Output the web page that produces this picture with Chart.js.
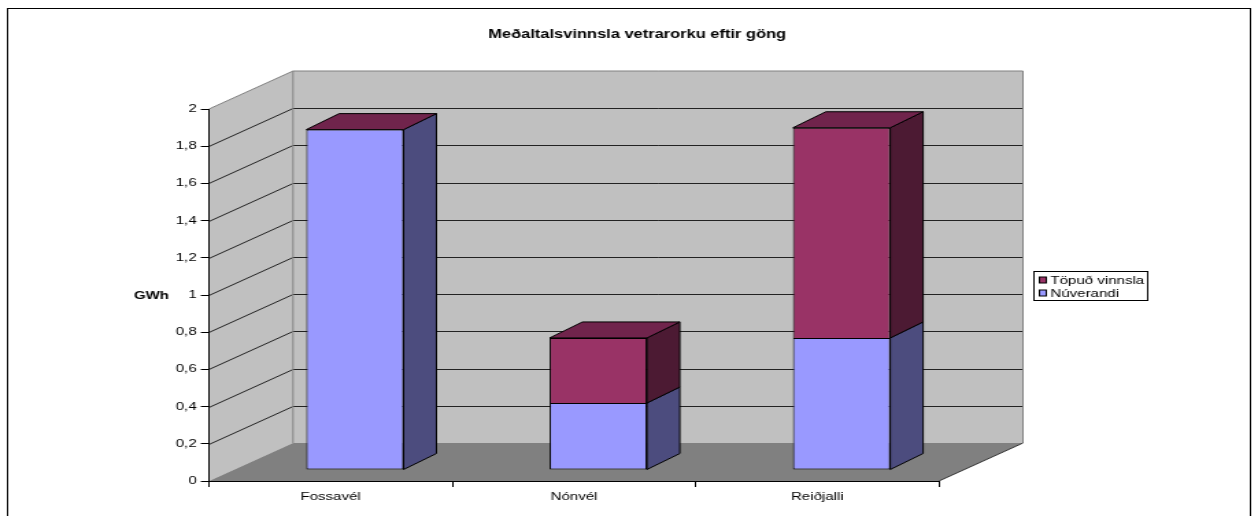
<!DOCTYPE html>
<html>
<head>
<meta charset="utf-8">
<title>Meðaltalsvinnsla vetrarorku eftir göng</title>
<script src="https://cdn.jsdelivr.net/npm/chart.js@4.4.1/dist/chart.umd.min.js"></script>
<style>
    html, body { margin: 0; padding: 0; background: #fff; }
    #myChart { display: block; }
</style>
</head>
<body>
<!-- drawn 918 wide and stretched to 1258, like the original export -->
<canvas id="myChart" width="918" height="516" style="width:1258px;height:516px"></canvas>
<script>
'use strict';

var title = 'Meðaltalsvinnsla vetrarorku eftir göng';
var categories = ['Fossavél', 'Nónvél', 'Reiðjalli'];
var nuverandi = [1.83, 0.36, 0.71];
var topud = [0, 0.35, 1.13];
var yTickValues = [0, 0.2, 0.4, 0.6, 0.8, 1, 1.2, 1.4, 1.6, 1.8, 2];
var yTickLabels = ['0', '0,2', '0,4', '0,6', '0,8', '1', '1,2', '1,4', '1,6', '1,8', '2'];
var yTitle = 'GWh';

var FONT = '"Liberation Sans", Arial, sans-serif';
Chart.defaults.font.family = FONT;
Chart.defaults.font.size = 11;
Chart.defaults.color = '#000';

// 3d look (canvas px)
var wallDepth = { x: 61.3, y: -38 };
var barShift = { x: 17.7, y: -11 };
var barDepth = { x: 24, y: -16 };
var sideColors = ['#4c4c7e', '#4c1a33'];
var topColors = ['#7a7acc', '#70244c'];

var box3d = {
    id: 'box3d',
    beforeDraw: function (chart) {
        var ctx = chart.ctx;
        var a = chart.chartArea;
        var ys = chart.scales.y;
        var L = a.left, R = a.right;
        var y0 = ys.getPixelForValue(0), y2 = ys.getPixelForValue(2);
        var dx = wallDepth.x, dy = wallDepth.y;
        ctx.save();
        ctx.fillStyle = '#c0c0c0';
        ctx.beginPath();
        ctx.moveTo(L, y0);
        ctx.lineTo(L + dx, y0 + dy);
        ctx.lineTo(L + dx, y2 + dy);
        ctx.lineTo(L, y2);
        ctx.closePath();
        ctx.fill();
        ctx.fillRect(L + dx, y2 + dy, R - L, y0 - y2);
        // floor
        ctx.fillStyle = '#808080';
        ctx.beginPath();
        ctx.moveTo(L, y0);
        ctx.lineTo(R, y0);
        ctx.lineTo(R + dx, y0 + dy);
        ctx.lineTo(L + dx, y0 + dy);
        ctx.closePath();
        ctx.fill();
        // gridlines on the walls
        ctx.lineWidth = 1;
        ctx.strokeStyle = '#222';
        yTickValues.forEach(function (v) {
            if (v <= 0 || v >= 2) return;
            var py = Math.round(ys.getPixelForValue(v)) + 0.5;
            ctx.beginPath();
            ctx.moveTo(L, py);
            ctx.lineTo(L + dx, py + dy);
            ctx.lineTo(R + dx, py + dy);
            ctx.stroke();
        });
        // wall edges
        ctx.strokeStyle = '#808080';
        ctx.beginPath();
        ctx.moveTo(L, y2);
        ctx.lineTo(L + dx, y2 + dy);
        ctx.lineTo(R + dx, y2 + dy);
        ctx.lineTo(R + dx, y0 + dy);
        ctx.moveTo(L + dx, y2 + dy);
        ctx.lineTo(L + dx, y0 + dy);
        ctx.stroke();
        ctx.strokeStyle = '#333';
        ctx.beginPath();
        ctx.moveTo(R, y0);
        ctx.lineTo(R + dx, y0 + dy);
        ctx.stroke();
        ctx.restore();
    },
    beforeDatasetsDraw: function (chart) {
        chart.ctx.save();
        chart.ctx.translate(barShift.x, barShift.y);
    },
    afterDatasetsDraw: function (chart) {
        var ctx = chart.ctx;
        var last = chart.data.datasets.length - 1;
        ctx.lineWidth = 1;
        ctx.strokeStyle = '#000';
        chart.data.datasets.forEach(function (ds, di) {
            var meta = chart.getDatasetMeta(di);
            meta.data.forEach(function (el) {
                var p = el.getProps(['x', 'y', 'base', 'width'], true);
                var left = p.x - p.width / 2, right = p.x + p.width / 2;
                var top = Math.min(p.y, p.base), bottom = Math.max(p.y, p.base);
                if (bottom - top > 0.5) {
                    ctx.fillStyle = sideColors[di];
                    ctx.beginPath();
                    ctx.moveTo(right, top);
                    ctx.lineTo(right + barDepth.x, top + barDepth.y);
                    ctx.lineTo(right + barDepth.x, bottom + barDepth.y);
                    ctx.lineTo(right, bottom);
                    ctx.closePath();
                    ctx.fill();
                    ctx.stroke();
                }
                if (di === last) {
                    ctx.fillStyle = topColors[di];
                    ctx.beginPath();
                    ctx.moveTo(left, top);
                    ctx.lineTo(left + barDepth.x, top + barDepth.y);
                    ctx.lineTo(right + barDepth.x, top + barDepth.y);
                    ctx.lineTo(right, top);
                    ctx.closePath();
                    ctx.fill();
                    ctx.stroke();
                }
            });
        });
        ctx.restore();
    },
    afterDraw: function (chart) {
        var ctx = chart.ctx;
        var ys = chart.scales.y;
        ctx.save();
        // axis title, horizontal
        ctx.fillStyle = '#000';
        ctx.font = 'bold 11px ' + FONT;
        ctx.textAlign = 'center';
        ctx.textBaseline = 'middle';
        ctx.fillText(yTitle, 110.5, ys.getPixelForValue(1) + 1);
        // legend, top series first
        var lx = 754.5, ly = 271.5, lw = 83, lh = 29;
        ctx.fillStyle = '#fff';
        ctx.fillRect(lx, ly, lw, lh);
        ctx.strokeStyle = '#000';
        ctx.lineWidth = 1;
        ctx.strokeRect(lx, ly, lw, lh);
        ctx.font = '11px ' + FONT;
        ctx.textAlign = 'left';
        var items = chart.data.datasets.slice().reverse();
        items.forEach(function (ds, i) {
            var cy = ly + 8.5 + i * 13;
            ctx.fillStyle = ds.backgroundColor;
            ctx.fillRect(lx + 4, cy - 3, 5, 6);
            ctx.strokeRect(lx + 4, cy - 3, 5, 6);
            ctx.fillStyle = '#000';
            ctx.fillText(ds.label, lx + 12, cy + 0.5);
        });
        // outer frame
        ctx.strokeStyle = '#000';
        ctx.strokeRect(5.5, 8.5, 907, 520);
        ctx.restore();
    }
};

var ctx = document.getElementById('myChart').getContext('2d');
var myChart = new Chart(ctx, {
    type: 'bar',
    data: {
        labels: categories,
        datasets: [{
            label: 'Núverandi',
            data: nuverandi,
            backgroundColor: '#9999ff',
            borderColor: '#000',
            borderWidth: 1,
            borderSkipped: false
        }, {
            label: 'Töpuð vinnsla',
            data: topud,
            backgroundColor: '#993366',
            borderColor: '#000',
            borderWidth: 1,
            borderSkipped: 'start'
        }]
    },
    options: {
        responsive: false,
        animation: false,
        events: [],
        barPercentage: 0.4,
        categoryPercentage: 1,
        layout: { padding: { left: 12, right: 0, top: 0, bottom: 0 } },
        plugins: {
            legend: { display: false },
            tooltip: { enabled: false },
            title: {
                display: true,
                text: title,
                color: '#000',
                font: { size: 12, weight: 'bold' },
                padding: { top: 27, bottom: 67.6 }
            }
        },
        scales: {
            x: {
                stacked: true,
                grid: { drawOnChartArea: false, tickLength: 6, color: '#000', offset: true },
                border: { color: '#000' },
                ticks: { padding: 3, maxRotation: 0, color: '#000' },
                afterFit: function (s) { s.height = 35; }
            },
            y: {
                stacked: true,
                min: 0,
                max: 2,
                grid: { drawOnChartArea: false, tickLength: 6, color: '#000' },
                border: { color: '#000' },
                ticks: {
                    padding: 3,
                    color: '#000',
                    callback: function (v, i) { return yTickLabels[i]; }
                },
                afterBuildTicks: function (s) {
                    s.ticks = yTickValues.map(function (v) { return { value: v }; });
                },
                afterFit: function (s) { s.width = 140.5; }
            },
            // empty room on the right for the depth and the legend
            y2: {
                position: 'right',
                grid: { display: false },
                border: { display: false },
                ticks: { display: false },
                afterFit: function (s) { s.width = 232.8; }
            }
        }
    },
    plugins: [box3d]
});
</script>
</body>
</html>
